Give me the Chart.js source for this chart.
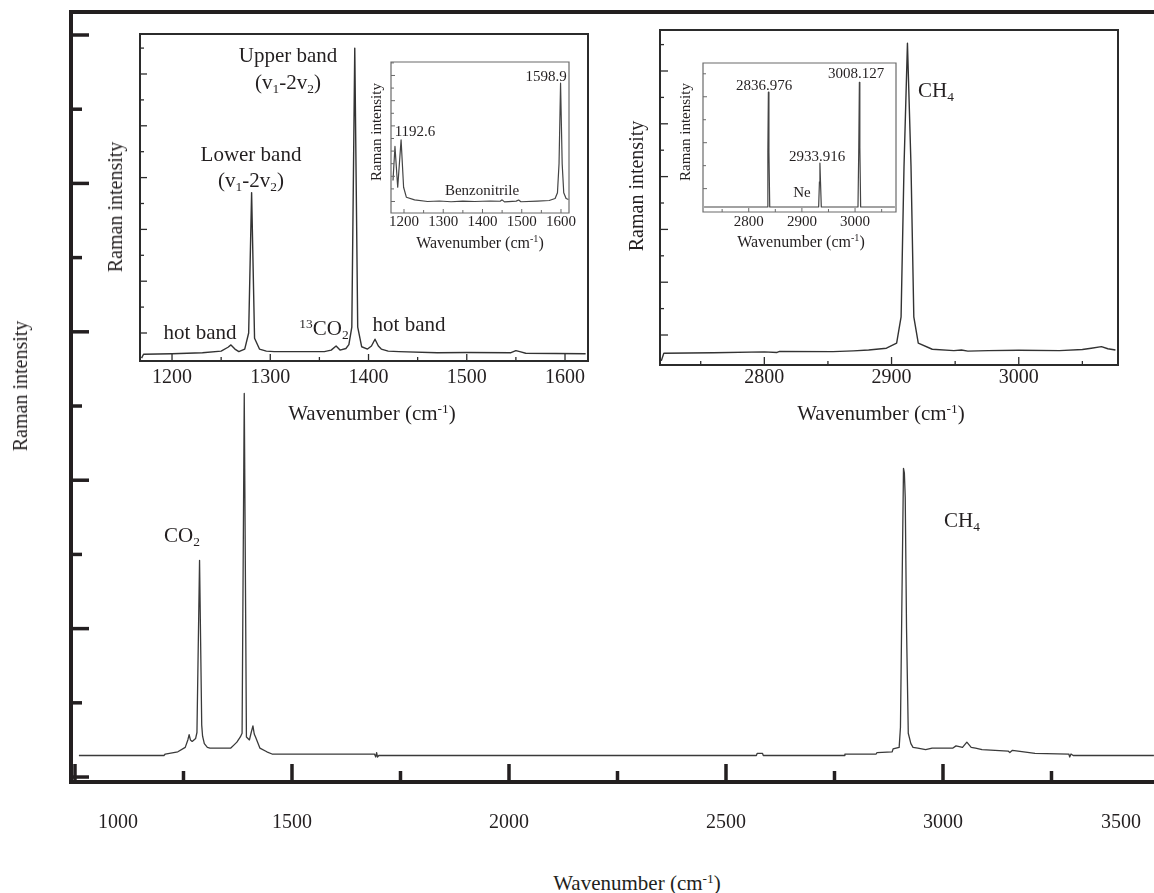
<!DOCTYPE html>
<html>
<head>
<meta charset="utf-8">
<title>Raman spectrum</title>
<script src="https://cdn.jsdelivr.net/npm/chart.js@4.4.1/dist/chart.umd.min.js"></script>
<style>
  html, body { margin: 0; padding: 0; background: #fff; }
  #fig { position: relative; width: 1154px; height: 893px; overflow: hidden;
         font-family: "Liberation Serif", "Times New Roman", serif; color: #231f20; }
  #plots canvas { position: absolute; }
  .t { position: absolute; white-space: nowrap; line-height: 1; transform: translate(-50%, -50%); }
  .rot { transform: translate(-50%, -50%) rotate(-90deg); }
  .s21 { font-size: 21px; }
  .s20 { font-size: 20px; }
  .s15 { font-size: 15px; }
  .s16 { font-size: 16px; }
  sub, sup { font-size: 0.64em; line-height: 0; position: relative; vertical-align: baseline; }
  sup { top: -0.55em; }
  sub { top: 0.28em; }
</style>
</head>
<body>
<div id="fig">
  <div id="plots"></div>

  <!-- full spectrum -->
  <div class="t rot s20" style="left:20px;top:386px">Raman intensity</div>
  <div class="t s21" style="left:637px;top:883px">Wavenumber (cm<sup>-1</sup>)</div>
  <div class="t s21" style="left:182px;top:535px">CO<sub>2</sub></div>
  <div class="t s21" style="left:962px;top:520px">CH<sub>4</sub></div>

  <!-- CO2 Fermi dyad -->
  <div class="t rot s20" style="left:115px;top:207px">Raman intensity</div>
  <div class="t s21" style="left:372px;top:413px">Wavenumber (cm<sup>-1</sup>)</div>
  <div class="t s21" style="left:288px;top:55px">Upper band</div>
  <div class="t s21" style="left:288px;top:82px">(v<sub>1</sub>-2v<sub>2</sub>)</div>
  <div class="t s21" style="left:251px;top:154px">Lower band</div>
  <div class="t s21" style="left:251px;top:180px">(v<sub>1</sub>-2v<sub>2</sub>)</div>
  <div class="t s21" style="left:200px;top:332px">hot band</div>
  <div class="t s21" style="left:324px;top:328px"><sup>13</sup>CO<sub>2</sub></div>
  <div class="t s21" style="left:409px;top:324px">hot band</div>

  <!-- benzonitrile calibration -->
  <div class="t rot s15" style="left:376px;top:132px">Raman intensity</div>
  <div class="t s16" style="left:480px;top:243px">Wavenumber (cm<sup>-1</sup>)</div>
  <div class="t s15" style="left:546px;top:76px">1598.9</div>
  <div class="t s15" style="left:415px;top:131px">1192.6</div>
  <div class="t s15" style="left:482px;top:190px">Benzonitrile</div>

  <!-- CH4 band -->
  <div class="t rot s20" style="left:636px;top:186px">Raman intensity</div>
  <div class="t s21" style="left:881px;top:413px">Wavenumber (cm<sup>-1</sup>)</div>
  <div class="t s21" style="left:936px;top:90px">CH<sub>4</sub></div>

  <!-- neon calibration -->
  <div class="t rot s15" style="left:685px;top:132px">Raman intensity</div>
  <div class="t s16" style="left:801px;top:242px">Wavenumber (cm<sup>-1</sup>)</div>
  <div class="t s15" style="left:764px;top:85px">2836.976</div>
  <div class="t s15" style="left:817px;top:156px">2933.916</div>
  <div class="t s15" style="left:856px;top:73px">3008.127</div>
  <div class="t s15" style="left:802px;top:192px">Ne</div>
</div>

<script>
// full spectrum, 1000-3500 cm-1
const mainWavenumber = [1009, 1205, 1208, 1237, 1254, 1260, 1263, 1266, 1270, 1278, 1281, 1287, 1292, 1294, 1298, 1305, 1311, 1359, 1366, 1373, 1381, 1385, 1390, 1395, 1402, 1406, 1410, 1413, 1416, 1426, 1442, 1454, 1690, 1693, 1695, 1697, 1700, 2570, 2572, 2584, 2586, 2772, 2774, 2846, 2848, 2883, 2885, 2899, 2902, 2905, 2909, 2911, 2913, 2916, 2920, 2926, 2931, 2942, 2960, 2975, 3000, 3023, 3030, 3045, 3055, 3065, 3075, 3090, 3150, 3154, 3160, 3212, 3290, 3292, 3295, 3300, 3486];
const mainIntensity = [0.29, 0.29, 0.31, 0.34, 0.40, 0.50, 0.57, 0.50, 0.48, 0.52, 0.60, 2.92, 0.70, 0.55, 0.45, 0.40, 0.39, 0.39, 0.43, 0.47, 0.54, 0.59, 5.17, 0.54, 0.50, 0.60, 0.69, 0.58, 0.54, 0.39, 0.34, 0.31, 0.31, 0.27, 0.33, 0.27, 0.29, 0.29, 0.32, 0.32, 0.29, 0.29, 0.31, 0.31, 0.33, 0.34, 0.38, 0.40, 0.67, 2.20, 4.16, 4.10, 3.77, 2.00, 0.59, 0.45, 0.40, 0.39, 0.37, 0.39, 0.39, 0.39, 0.42, 0.40, 0.47, 0.40, 0.39, 0.37, 0.35, 0.33, 0.36, 0.32, 0.31, 0.27, 0.31, 0.29, 0.29];
const mainXLabels = [1000, 1500, 2000, 2500, 3000, 3500];
const mainXMinor = [1250, 1750, 2250, 2750, 3250];
const mainYMajor = [0, 2, 4, 6, 8, 10];
const mainYMinor = [1, 3, 5, 7, 9];

// CO2 Fermi dyad
const co2Wavenumber = [1169, 1171, 1200, 1231, 1250, 1257, 1260, 1264, 1268, 1274, 1278, 1281, 1284, 1289, 1296, 1304, 1355, 1362, 1367, 1371, 1377, 1380, 1383, 1386, 1389, 1393, 1399, 1403, 1406.6, 1410, 1413, 1420, 1431, 1470, 1500, 1545, 1550, 1554, 1560, 1621];
const co2Intensity = [-0.97, -0.82, -0.80, -0.76, -0.70, -0.55, -0.46, -0.62, -0.72, -0.62, 0.00, 5.42, -0.20, -0.62, -0.70, -0.72, -0.72, -0.66, -0.50, -0.66, -0.60, -0.45, 0.23, 11.00, 0.23, -0.53, -0.62, -0.50, -0.24, -0.50, -0.62, -0.70, -0.72, -0.76, -0.75, -0.76, -0.68, -0.72, -0.78, -0.80];
const co2XLabels = [1200, 1300, 1400, 1500, 1600];
const co2XMinor = [1250, 1350, 1450, 1550];

// benzonitrile reference
const bzWavenumber = [1172, 1177, 1184, 1192.6, 1199, 1206, 1227, 1260, 1290, 1320, 1350, 1380, 1420, 1445, 1450, 1456, 1486, 1492, 1498, 1540, 1570, 1585, 1591, 1595, 1598.9, 1603, 1607, 1613, 1619];
const bzIntensity = [1.67, 4.37, 1.13, 4.90, 1.13, 0.34, 0.13, 0.00, 0.04, -0.02, 0.03, 0.00, 0.04, 0.02, 0.13, -0.03, 0.03, 0.12, -0.02, 0.03, 0.08, 0.24, 0.70, 3.00, 9.39, 3.00, 0.70, 0.24, 0.16];

// CH4 v1 band
const ch4Wavenumber = [2719, 2721, 2760, 2800, 2810, 2812, 2854, 2870, 2882, 2896, 2904, 2907.5, 2909.8, 2912.5, 2915.3, 2917.5, 2921, 2932, 2949, 2955, 2960, 2976, 3000, 3032, 3050, 3057, 3065, 3070, 3076];
const ch4Intensity = [-0.98, -0.69, -0.67, -0.64, -0.66, -0.62, -0.63, -0.60, -0.57, -0.50, -0.31, 0.69, 6.38, 11.05, 6.38, 0.69, -0.31, -0.54, -0.59, -0.57, -0.61, -0.59, -0.58, -0.59, -0.55, -0.50, -0.44, -0.52, -0.57];
const ch4XLabels = [2800, 2900, 3000];
const ch4XMinor = [2750, 2850, 2950, 3050];

// neon lamp lines
const neWavenumber = [2716, 2834.5, 2836, 2836.976, 2838, 2839.5, 2931.5, 2933, 2933.916, 2935, 2936.5, 3005.5, 3007, 3008.127, 3009, 3010.5, 3075];
const neIntensity = [-0.80, -0.80, 1.60, 4.20, 1.60, -0.80, -0.80, 0.30, 1.11, 0.30, -0.80, -0.80, 1.80, 4.63, 1.80, -0.80, -0.80];

const evenTicks = n => Array.from({ length: n }, (_, i) => i).filter(i => i % 2 === 0);
const oddTicks = n => Array.from({ length: n }, (_, i) => i).filter(i => i % 2 === 1);

// frame, inward ticks and x tick labels, placed with the chart's own scales
const frameAxes = {
  id: 'frameAxes',
  afterDatasetsDraw(chart, args, o) {
    const { ctx, chartArea: a, scales: { x, y } } = chart;
    ctx.save();
    ctx.strokeStyle = o.color;
    ctx.lineWidth = o.tickWidth;
    const tick = (list, len, axis) => list.forEach(v => {
      ctx.beginPath();
      if (axis === 'x') {
        const p = x.getPixelForValue(v);
        ctx.moveTo(p, a.bottom); ctx.lineTo(p, a.bottom - len);
      } else {
        const p = y.getPixelForValue(v);
        ctx.moveTo(a.left, p); ctx.lineTo(a.left + len, p);
      }
      ctx.stroke();
    });
    tick(o.xMajor, o.majorLen, 'x');
    tick(o.xMinor, o.minorLen, 'x');
    tick(o.yMajor, o.majorLen, 'y');
    tick(o.yMinor, o.minorLen, 'y');

    ctx.lineWidth = o.frameWidth;
    ctx.lineCap = 'square';
    ctx.beginPath();
    if (o.sides.includes('left')) { ctx.moveTo(a.left, a.top); ctx.lineTo(a.left, a.bottom); }
    if (o.sides.includes('top')) { ctx.moveTo(a.left, a.top); ctx.lineTo(a.right, a.top); }
    if (o.sides.includes('right')) { ctx.moveTo(a.right, a.top); ctx.lineTo(a.right, a.bottom); }
    if (o.sides.includes('bottom')) { ctx.moveTo(a.left, a.bottom); ctx.lineTo(a.right, a.bottom); }
    ctx.stroke();

    ctx.fillStyle = '#231f20';
    ctx.font = o.font;
    ctx.textAlign = 'center';
    ctx.textBaseline = 'middle';
    o.xLabels.forEach(v => {
      let p = x.getPixelForValue(v);
      if (o.labelInset) p = Math.min(Math.max(p, a.left + o.labelInset[0]), a.right - o.labelInset[1]);
      ctx.fillText(String(v), p, a.bottom + o.labelGap);
    });
    ctx.restore();
  }
};

const plots = document.getElementById('plots');

function spectrum(frame, margin, xRange, yRange, wn, inten, line, decor) {
  const cv = document.createElement('canvas');
  const w = frame.right - frame.left + 2 * margin;
  const h = frame.bottom - frame.top + 2 * margin;
  cv.width = w; cv.height = h;
  cv.style.left = (frame.left - margin) + 'px';
  cv.style.top = (frame.top - margin) + 'px';
  cv.style.width = w + 'px'; cv.style.height = h + 'px';
  plots.appendChild(cv);
  return new Chart(cv, {
    type: 'line',
    data: {
      datasets: [{
        data: wn.map((x, i) => ({ x, y: inten[i] })),
        borderColor: line.color,
        borderWidth: line.width,
        borderJoinStyle: 'round',
        pointRadius: 0,
        tension: 0,
        fill: false
      }]
    },
    options: {
      responsive: false,
      animation: false,
      events: [],
      layout: { padding: margin },
      plugins: { legend: { display: false }, tooltip: { enabled: false }, frameAxes: decor },
      scales: {
        x: { type: 'linear', display: false, min: xRange[0], max: xRange[1] },
        y: { type: 'linear', display: false, min: yRange[0], max: yRange[1] }
      }
    },
    plugins: [frameAxes]
  });
}

// full spectrum with open right side
spectrum({ left: 71, top: 12, right: 1154, bottom: 782 }, 60,
  [990.8, 3486.2], [-0.067, 10.31], mainWavenumber, mainIntensity,
  { color: '#3a3a3a', width: 1.3 },
  { sides: ['left', 'top', 'bottom'], color: '#231f20', frameWidth: 4, tickWidth: 3.5,
    majorLen: 18, minorLen: 11, xMajor: mainXLabels, xMinor: mainXMinor,
    yMajor: mainYMajor, yMinor: mainYMinor, xLabels: mainXLabels,
    font: '20px "Liberation Serif", serif', labelGap: 41, labelInset: [47, 33] });

// CO2 dyad panel
spectrum({ left: 140, top: 34, right: 588, bottom: 361 }, 30,
  [1167.4, 1623.4], [-1.081, 11.544], co2Wavenumber, co2Intensity,
  { color: '#333', width: 1.4 },
  { sides: ['left', 'top', 'right', 'bottom'], color: '#2b2b2b', frameWidth: 2, tickWidth: 1.3,
    majorLen: 7, minorLen: 4, xMajor: co2XLabels, xMinor: co2XMinor,
    yMajor: evenTicks(12), yMinor: oddTicks(12), xLabels: co2XLabels,
    font: '20px "Liberation Serif", serif', labelGap: 17 });

// CH4 panel
spectrum({ left: 660, top: 30, right: 1118, bottom: 365 }, 30,
  [2718, 3078], [-1.136, 11.553], ch4Wavenumber, ch4Intensity,
  { color: '#333', width: 1.4 },
  { sides: ['left', 'top', 'right', 'bottom'], color: '#2b2b2b', frameWidth: 2, tickWidth: 1.3,
    majorLen: 8, minorLen: 4, xMajor: ch4XLabels, xMinor: ch4XMinor,
    yMajor: evenTicks(12), yMinor: oddTicks(12), xLabels: ch4XLabels,
    font: '20px "Liberation Serif", serif', labelGap: 13 });

// benzonitrile inset
spectrum({ left: 391, top: 61.5, right: 569, bottom: 212.5 }, 20,
  [1166.9, 1620.4], [-0.913, 11.07], bzWavenumber, bzIntensity,
  { color: '#444', width: 1.2 },
  { sides: ['left', 'top', 'right', 'bottom'], color: '#6a6a6a', frameWidth: 1.2, tickWidth: 1,
    majorLen: 4, minorLen: 3, xMajor: co2XLabels, xMinor: co2XMinor,
    yMajor: evenTicks(12), yMinor: oddTicks(12), xLabels: co2XLabels,
    font: '15px "Liberation Serif", serif', labelGap: 9 });

// neon inset
spectrum({ left: 703, top: 62.5, right: 896, bottom: 211.7 }, 20,
  [2714, 3077], [-1.017, 5.47], neWavenumber, neIntensity,
  { color: '#444', width: 1.2 },
  { sides: ['left', 'top', 'right', 'bottom'], color: '#6a6a6a', frameWidth: 1.2, tickWidth: 1,
    majorLen: 4, minorLen: 3, xMajor: ch4XLabels, xMinor: ch4XMinor,
    yMajor: evenTicks(6), yMinor: oddTicks(6), xLabels: ch4XLabels,
    font: '15px "Liberation Serif", serif', labelGap: 10 });
</script>
</body>
</html>
